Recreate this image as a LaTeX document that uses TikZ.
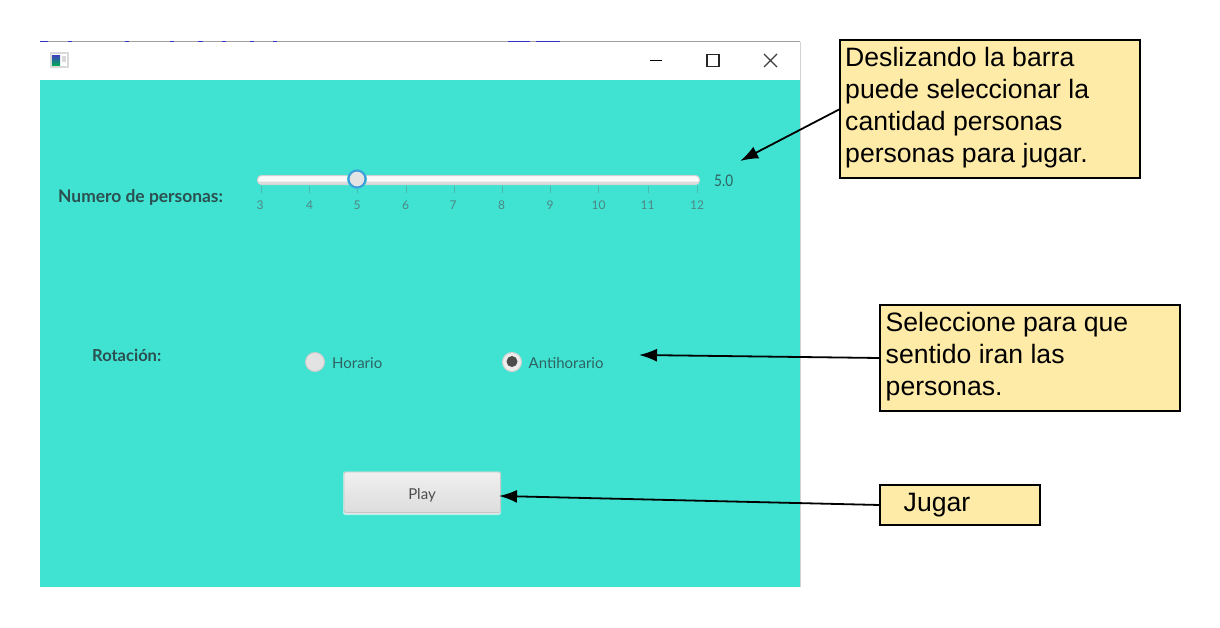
\documentclass[tikz,border=0pt]{standalone}
\usepackage{fontspec}
\setmainfont{Liberation Sans}
\newfontfamily\uifont{Lato}
\newfontfamily\labelfont{Lato}
\usetikzlibrary{arrows.meta}
\definecolor{turq}{HTML}{40E3D2}
\definecolor{callfill}{HTML}{FFEBA8}
\definecolor{uitext}{HTML}{2F6362}
\definecolor{ticktext}{HTML}{4F8583}
\definecolor{labeltext}{HTML}{2C4F50}
\definecolor{knobblue}{HTML}{3A9BD9}
\tikzset{
  x=1pt,y=-1pt,
  callout/.style={draw=black,line width=1.3pt,fill=callfill,anchor=north west,inner sep=0pt,outer sep=0pt},
  calltext/.style={anchor=west,inner sep=0pt,font=\fontsize{26.6}{32}\selectfont,align=left,text=black},
  pointer/.style={draw=black,line width=1.8pt,shorten >=-2pt,-{Latex[length=18pt,width=13pt]}},
  ticknum/.style={font=\uifont\fontsize{12}{14}\selectfont,text=ticktext,inner sep=0pt},
  tickmark/.style={draw=ticktext!45!turq,line width=0.8pt},
  radiolabel/.style={font=\uifont\fontsize{15}{18}\selectfont,text=uitext,anchor=west,inner sep=0pt},
  formlabel/.style={font=\labelfont\bfseries,text=labeltext,anchor=west,inner sep=0pt},
}
\begin{document}
\begin{tikzpicture}
\useasboundingbox (0,0) rectangle (1220,627);
\fill[white] (0,0) rectangle (1220,627);
% window
\fill[white] (40,42) rectangle (800,80);
\fill[turq] (40,80) rectangle (800,587);
\draw[gray!75,line width=1pt] (40,41.5) -- (800,41.5);
\draw[gray!35,line width=0.7pt] (800,42) -- (800,587);
\foreach \a/\b in {40/48,68/72,125/129,170/174,198/203,222/226,250/254,273/277,508/530,536/560}
  \draw[blue!60!gray,line width=0.6pt] (\a,41.2) -- (\b,41.2);
% window icon
\fill[gray!30] (50,52) rectangle (69,68);
\fill[white] (52,54) rectangle (67,66);
\shade[top color=blue!50!gray,bottom color=teal!70!green] (52,55) rectangle (60,65);
\fill[gray!30] (62,56) rectangle (66,62);
% window buttons
\draw[black,line width=1.2pt] (650,60.5) -- (662,60.5);
\draw[black!85,line width=1.2pt] (707,54.5) rectangle (719,66.5);
\draw[black!75,line width=1.1pt] (764,54) -- (777,67) (777,54) -- (764,67);
% labels
\node[formlabel,font=\labelfont\bfseries\fontsize{17.4}{19}\selectfont] (lblpersonas) at (58,197.5) {Numero de personas:};
\node[formlabel,font=\labelfont\bfseries\fontsize{16.5}{19}\selectfont] (lblrotacion) at (92,355.5) {Rotación:};
% slider
\fill[gray!4,rounded corners=4pt,draw=gray!35,line width=1pt] (257.5,175.5) rectangle (699.5,184.5);
\fill[gray!28,rounded corners=1pt] (259,181.5) rectangle (698,184);
\foreach \x/\t/\tx in {261/3/260,309/4/309.5,357/5/357,406/6/405.5,454/7/453,502/8/501.5,550/9/550,598/10/598.5,648/11/647.5,697/12/697}{
  \draw[tickmark] (\x,186) -- (\x,193);
  \node[ticknum] at (\tx,205.5) {\t};
}
\fill[knobblue!45!turq] (357,179) circle (10pt);
\filldraw[draw=knobblue,line width=1.6pt,fill=gray!22] (357,179) circle (8.3pt);
\node[font=\uifont\fontsize{16}{18}\selectfont,text=uitext,anchor=west,inner sep=0pt,xscale=0.85] (sval) at (714,180.5) {5.0};
% radios
\filldraw[draw=gray!40,line width=1pt,fill=gray!22] (315,362) circle (9.5pt);
\node[radiolabel] (horario) at (332,363) {Horario};
\filldraw[draw=gray!35,line width=1pt,fill=gray!15] (512,362) circle (9.5pt);
\fill[black!70] (512,361.5) circle (5.5pt);
\node[radiolabel] (antih) at (528.5,363) {Antihorario};
% play
\draw[white!60!turq,line width=1pt,fill=gray!20,rounded corners=2pt] (343.5,472) rectangle (500.5,514.5);
\shade[top color=gray!12,bottom color=gray!27,rounded corners=2pt,draw=gray!45,line width=0.8pt] (344,472) rectangle (500.5,512.5);
\node[font=\uifont\fontsize{15}{18}\selectfont,text=black!70,inner sep=0pt] (play) at (422,495.5) {Play};
\coordinate (playedge) at (501,496);
\coordinate (radiotarget) at (641,355);
\coordinate (slidertarget) at (742,160);
% callouts
\node[callout,minimum width=300pt,minimum height=138pt] (c1) at (840,40) {};
\node[calltext] (t1) at (845,107.5) {Deslizando la barra\\puede seleccionar la\\cantidad personas\\personas para jugar.};
\node[callout,minimum width=300pt,minimum height=106pt] (c2) at (880,305) {};
\node[calltext] (t2) at (885.5,356.5) {Seleccione para que\\sentido iran las\\personas.};
\node[callout,minimum width=160pt,minimum height=40pt] (c3) at (880,485) {};
\node[calltext] (t3) at (903.5,505.5) {Jugar};
% connectors
\draw[pointer] (c1.west) -- (slidertarget);
\draw[pointer] (c2.west) -- (radiotarget);
\draw[pointer] (c3.west) -- (playedge);
\end{tikzpicture}
\end{document}
